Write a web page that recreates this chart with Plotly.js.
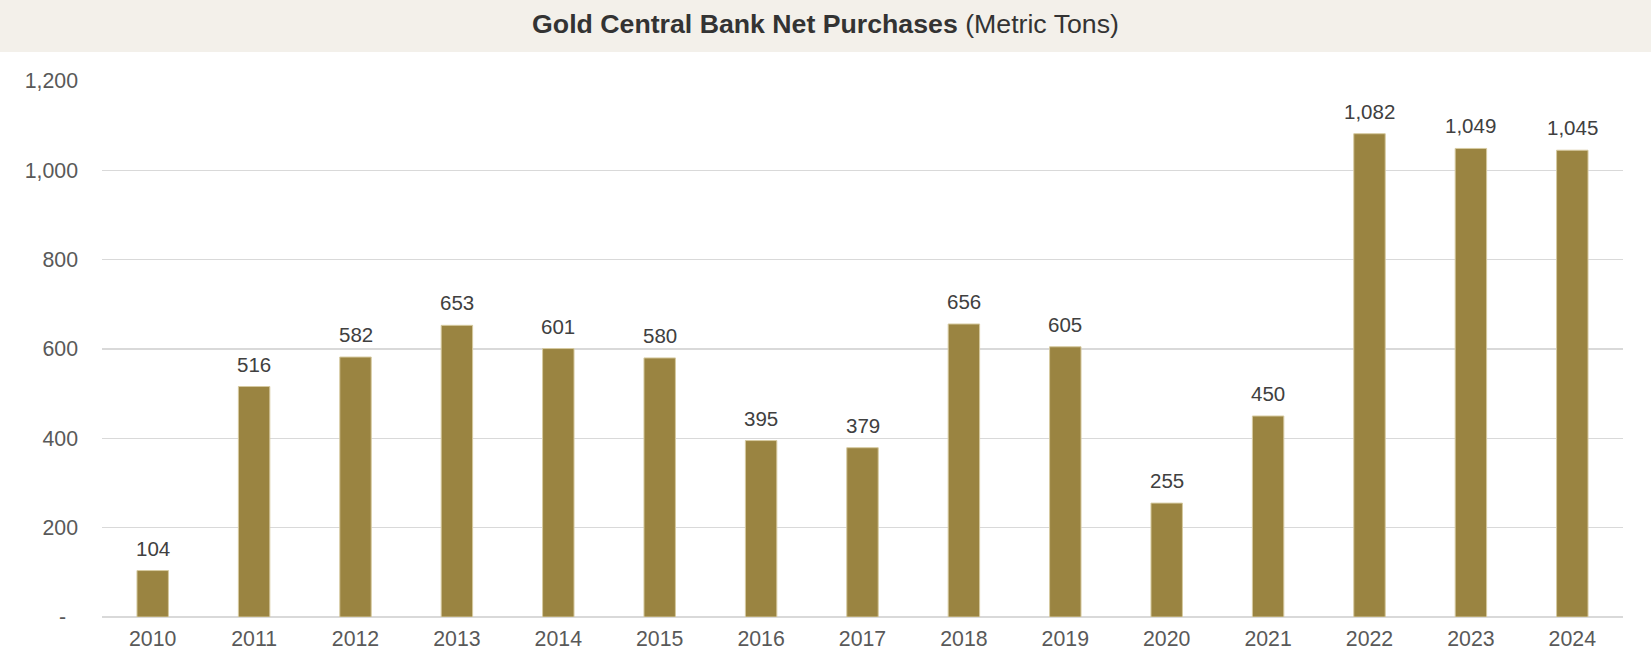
<!DOCTYPE html>
<html>
<head>
<meta charset="utf-8">
<script src="https://cdn.plot.ly/plotly-3.0.1.min.js"></script>
<style>html,body{margin:0;padding:0;background:#fff;}#chart{width:1651px;height:654px;}</style>
</head>
<body>
<div id="chart"></div>
<script>
const years = ['2010','2011','2012','2013','2014','2015','2016','2017','2018','2019','2020','2021','2022','2023','2024'];
const purchases = [104, 516, 582, 653, 601, 580, 395, 379, 656, 605, 255, 450, 1082, 1049, 1045];
const yTickVals = [0, 200, 400, 600, 800, 1000, 1200];
const yTickText = ['-\u00A0\u00A0', '200', '400', '600', '800', '1,000', '1,200'];

const fmt = v => v.toLocaleString('en-US');
const FONT = 'Liberation Sans, Arial, sans-serif';

const trace = {
  type: 'bar',
  x: years,
  y: purchases,
  marker: {color: '#9A8441', line: {color: '#d6caa0', width: 1}},
  hoverinfo: 'x+y'
};

const annotations = years.map((yr, i) => ({
  x: i, y: purchases[i], xref: 'x', yref: 'y',
  text: fmt(purchases[i]), showarrow: false,
  yanchor: 'bottom', yshift: 9,
  font: {family: FONT, size: 20.5, color: '#404040'}
}));

const layout = {
  width: 1651, height: 654,
  margin: {l: 102, r: 28, t: 81, b: 37, pad: 0},
  paper_bgcolor: '#ffffff', plot_bgcolor: '#ffffff',
  showlegend: false,
  bargap: 0.69,
  title: {
    text: '<b>Gold Central Bank Net Purchases</b> (Metric Tons)',
    x: 0.5, xref: 'container', xanchor: 'center',
    y: 1 - 24/654, yref: 'container', yanchor: 'middle',
    font: {family: FONT, size: 26.7, color: '#333333'}
  },
  xaxis: {
    type: 'category',
    categoryarray: years, categoryorder: 'array',
    range: [-0.5, years.length - 0.5],
    showgrid: false, zeroline: false, showline: false,
    ticks: '', ticklabelstandoff: 7,
    tickfont: {family: FONT, size: 21.3, color: '#595959'}
  },
  yaxis: {
    range: [0, 1200],
    tickvals: yTickVals, ticktext: yTickText,
    showgrid: true, gridcolor: '#d9d9d9', gridwidth: 1.5,
    zeroline: true, zerolinecolor: '#d9d9d9', zerolinewidth: 1.5,
    showline: false, ticks: '', ticklabelstandoff: 23,
    tickfont: {family: FONT, size: 21.3, color: '#595959'}
  },
  shapes: [{
    type: 'rect', xref: 'paper', yref: 'paper', layer: 'below',
    x0: -102/1521, x1: 1 + 28/1521,
    y0: (617 - 52)/536, y1: 1.2,
    fillcolor: '#f3f0ea', line: {width: 0}
  }],
  annotations: annotations
};

Plotly.newPlot('chart', [trace], layout, {displayModeBar: false, staticPlot: true});
</script>
</body>
</html>
